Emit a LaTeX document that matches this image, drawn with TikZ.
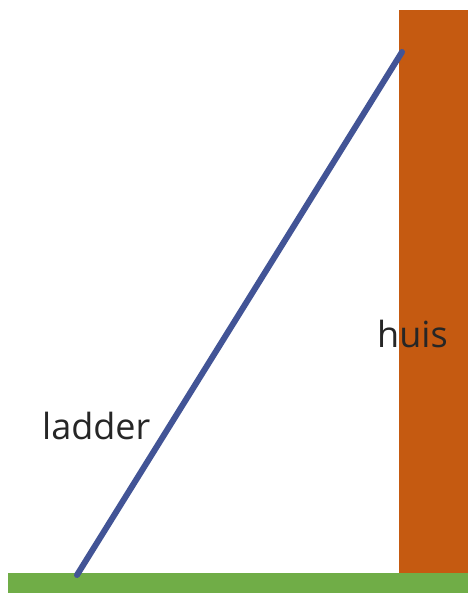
\documentclass[tikz,border=0pt]{standalone}
\usepackage{fontspec}
\setmainfont{Open Sans}
\definecolor{housecol}{RGB}{197,90,17}
\definecolor{groundcol}{RGB}{112,173,71}
\definecolor{laddercol}{RGB}{66,84,150}
\definecolor{txtcol}{RGB}{38,38,38}
\begin{document}
\begin{tikzpicture}[x=1pt,y=1pt,
  lbl/.style={inner sep=0pt,anchor=base west,text=txtcol,font=\fontsize{36}{40}\selectfont}]
\useasboundingbox (0,0) rectangle (468,593);
\fill[white] (0,0) rectangle (468,593);
\fill[housecol] (399,20) rectangle (468,583);
\fill[groundcol] (8,0) rectangle (468,20);
\coordinate (foot) at (77,18);
\coordinate (top) at (402,541);
\draw[laddercol,line width=6pt,line cap=round] (foot) -- (top);
\node[lbl] (ladder) at (42,153) {ladder};
\node[lbl] (huis) at (377,245) {huis};
\end{tikzpicture}
\end{document}
